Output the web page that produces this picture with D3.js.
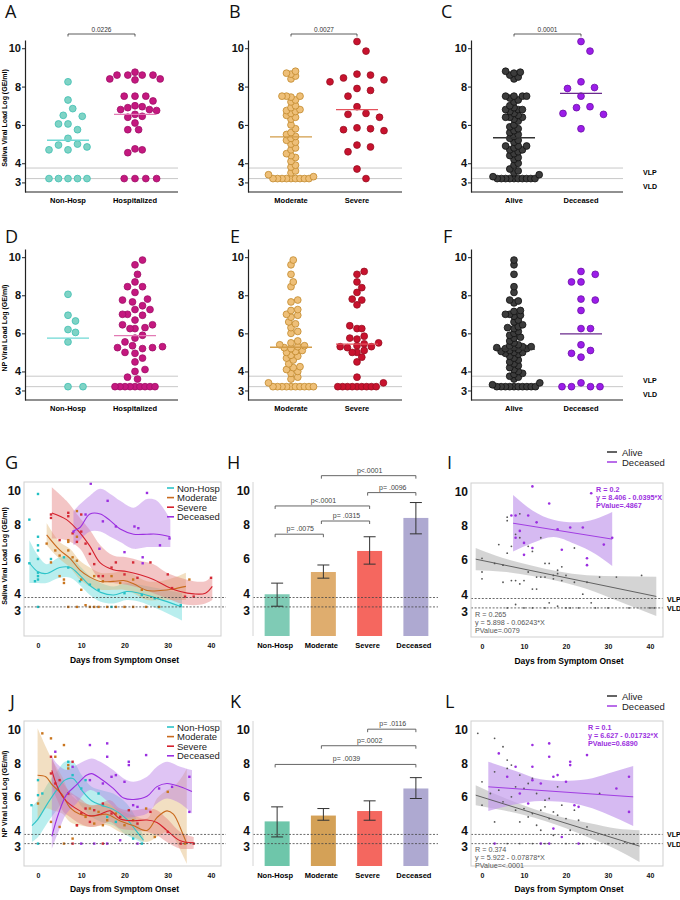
<!DOCTYPE html>
<html>
<head>
<meta charset="utf-8">
<script src="https://cdn.jsdelivr.net/npm/d3@7"></script>
<style>
  body { margin: 0; background: #fff; }
  svg { font-family: "Liberation Sans", Arial, sans-serif; }
</style>
</head>
<body>
<svg id="fig" width="680" height="900"></svg>
<script>
// ---------- data ----------
const vlp = 3.75, vld = 3.2;
const yTicks = [3, 4, 6, 8, 10];

// A-C saliva, D-F NP (log GE/ml)
const salivaNonHosp = [8.25, 7.3, 6.85, 6.5, 6.45, 6.05, 6.05, 5.75, 5.3, 5.0, 4.95, 4.85, 4.7, 4.7, 3.2, 3.2, 3.2, 3.2, 3.2];
const salivaHosp = [8.75, 8.6, 8.6, 8.6, 8.6, 8.4, 8.4, 8.35, 7.5, 7.5, 7.5, 7.25, 7.0, 6.95, 6.9, 6.8, 6.8, 6.75, 6.55, 6.45, 6.4, 6.1, 5.75, 5.75, 4.75, 4.7, 4.55, 3.2, 3.2, 3.2, 3.2];
const salivaModerate = [8.8, 8.7, 8.65, 8.55, 8.4, 7.5, 7.5, 7.5, 7.45, 7.3, 7.2, 7.0, 6.9, 6.8, 6.75, 6.7, 6.6, 6.5, 6.4, 6.3, 6.0, 5.8, 5.6, 5.5, 5.4, 5.3, 5.2, 5.1, 5.0, 4.8, 4.7, 4.5, 4.4, 4.3, 4.1, 3.9, 3.8, 3.6, 3.5, 3.4, 3.3, 3.2, 3.2, 3.2, 3.2, 3.2, 3.2, 3.2, 3.2, 3.2];
const salivaSevere = [10.35, 9.85, 8.65, 8.6, 8.45, 8.35, 8.25, 7.9, 7.8, 7.5, 6.95, 6.6, 6.55, 6.4, 5.85, 5.8, 5.75, 5.7, 4.95, 4.85, 4.6, 3.7, 3.2];
const salivaAlive = [8.8, 8.75, 8.7, 8.6, 8.5, 8.4, 7.5, 7.5, 7.5, 7.5, 7.4, 7.3, 7.2, 7.0, 6.9, 6.8, 6.8, 6.8, 6.7, 6.6, 6.5, 6.4, 6.4, 6.4, 6.3, 6.2, 6.0, 5.9, 5.8, 5.7, 5.6, 5.5, 5.4, 5.3, 5.2, 5.1, 4.9, 4.9, 4.9, 4.8, 4.7, 4.7, 4.6, 4.5, 4.4, 4.3, 4.2, 4.0, 3.9, 3.7, 3.6, 3.5, 3.4, 3.3, 3.2, 3.2, 3.2, 3.2, 3.2, 3.2, 3.2, 3.2, 3.2, 3.2];
const salivaDeceased = [10.35, 9.85, 8.25, 7.95, 7.9, 7.5, 6.95, 6.9, 6.6, 6.55, 5.8];
const npNonHosp = [8.05, 6.95, 6.65, 6.2, 6.05, 5.55, 3.2, 3.2];
const npHosp = [9.85, 9.6, 9.1, 8.7, 8.45, 8.45, 8.15, 7.8, 7.75, 7.65, 7.45, 7.25, 7.25, 7.0, 7.0, 6.95, 6.7, 6.45, 6.45, 6.3, 6.25, 6.25, 5.9, 5.75, 5.55, 5.35, 5.3, 5.25, 5.25, 5.2, 5.0, 4.95, 4.7, 4.5, 4.1, 4.0, 3.7, 3.6, 3.2, 3.2, 3.2, 3.2, 3.2, 3.2, 3.2, 3.2, 3.2];
const npModerate = [9.85, 9.6, 9.1, 8.7, 8.45, 7.75, 7.65, 7.25, 7.2, 7.0, 6.95, 6.85, 6.6, 6.5, 6.3, 6.1, 6.0, 5.6, 5.5, 5.4, 5.35, 5.3, 5.25, 5.2, 5.1, 5.05, 5.0, 4.85, 4.8, 4.7, 4.6, 4.4, 4.25, 4.2, 4.1, 4.0, 3.9, 3.7, 3.6, 3.4, 3.2, 3.2, 3.2, 3.2, 3.2, 3.2, 3.2, 3.2, 3.2, 3.2];
const npSevere = [9.25, 9.1, 8.7, 8.4, 8.15, 7.8, 7.75, 7.5, 6.4, 6.25, 6.25, 5.85, 5.75, 5.7, 5.5, 5.45, 5.35, 5.3, 5.3, 5.25, 5.1, 5.0, 5.0, 4.75, 4.5, 3.7, 3.4, 3.2, 3.2, 3.2, 3.2, 3.2, 3.2, 3.2, 3.2, 3.2];
const npAlive = [9.85, 9.6, 9.1, 8.45, 8.15, 7.75, 7.7, 7.6, 7.2, 7.15, 7.0, 7.0, 6.95, 6.9, 6.7, 6.6, 6.45, 6.35, 6.3, 6.25, 6.1, 6.0, 5.9, 5.8, 5.75, 5.6, 5.5, 5.4, 5.35, 5.3, 5.3, 5.25, 5.25, 5.2, 5.2, 5.15, 5.1, 5.05, 5.0, 5.0, 4.95, 4.9, 4.8, 4.7, 4.6, 4.5, 4.4, 4.3, 4.2, 4.1, 4.0, 3.9, 3.85, 3.75, 3.7, 3.6, 3.4, 3.3, 3.2, 3.2, 3.2, 3.2, 3.2, 3.2, 3.2, 3.2, 3.2, 3.2];
const npDeceased = [9.25, 9.1, 8.7, 8.7, 7.8, 7.75, 7.2, 6.25, 6.25, 5.4, 5.1, 4.95, 4.75, 3.4, 3.2, 3.2, 3.2, 3.2];
const medians = { A: [5.2, 6.55], B: [5.38, 6.8], C: [5.33, 7.65], D: [5.75, 5.88], E: [5.27, 5.43], F: [5.17, 5.97] };
const pAbove = { A: "0.0226", B: "0.0027", C: "0.0001" };

// H, K bars (mean with error bars)
const barCats = ["Non-Hosp", "Moderate", "Severe", "Deceased"];
const salivaMean = [3.94, 5.24, 6.47, 8.4];
const salivaLo = [3.24, 4.88, 5.7, 7.47];
const salivaHi = [4.59, 5.65, 7.3, 9.3];
const npMean = [4.53, 4.88, 5.15, 6.5];
const npLo = [3.6, 4.6, 4.6, 5.9];
const npHi = [5.4, 5.3, 5.76, 7.15];
const salivaBrackets = [[0, 1, "p= .0075", 7.45], [1, 2, "p= .0315", 8.22], [0, 2, "p<.0001", 9.1], [2, 3, "p= .0096", 9.88], [1, 3, "p<.0001", 10.87]];
const npBrackets = [[2, 3, "p= .0116", 10.05], [1, 3, "p=.0002", 9.06], [0, 3, "p= .0039", 7.94]];

// G saliva over time: points, smooth line, band [day, lo, hi]
const gPtsNonHosp = [[-2, 8.3], [-2, 5.75], [0, 9.8], [0, 7.3], [0, 6.8], [0, 6.5], [0, 6.0], [0, 5.2], [0, 5.0], [0, 4.8], [-0.7, 4.7], [0, 3.2], [3, 6.0], [6, 6.1], [7, 5.5], [9.7, 4.7], [12, 4.5], [14, 4.2], [17, 3.2], [20, 4.0], [24, 3.9], [27, 3.7], [33, 3.3]];
const gPtsModerate = [[2, 6.9], [3, 5.8], [4, 6.5], [5, 6.2], [5, 5.0], [6, 4.6], [6, 4.8], [7, 7.0], [7, 7.1], [7, 6.5], [7, 3.2], [8, 6.1], [9, 8.8], [9, 7.3], [9, 5.9], [10, 4.8], [10, 4.2], [11, 3.3], [12, 3.2], [13, 5.0], [13, 3.2], [15, 4.7], [16, 3.2], [17, 5.0], [18, 3.2], [19, 4.6], [20, 3.2], [22, 4.8], [22, 3.2], [24, 4.2], [25, 3.2], [28, 3.2], [35, 4.8], [14, 3.2], [9, 3.2]];
const gPtsSevere = [[3, 8.4], [3, 8.6], [5, 7.1], [7, 8.5], [7, 8.7], [8, 7.5], [9, 7.0], [10, 8.6], [10, 7.6], [11, 6.9], [12, 6.3], [13, 5.7], [14, 5.0], [15, 5.0], [17, 5.5], [18, 5.8], [20, 5.1], [22, 5.8], [23, 4.9], [26, 5.8], [30, 5.1], [31, 4.3], [34, 3.8], [36, 3.8], [40, 4.9]];
const gPtsDeceased = [[8.2, 7.6], [11, 8.6], [12.2, 10.4], [14.2, 6.6], [15, 8.2], [16.1, 9.4], [18, 7.9], [20, 6.4], [22.3, 7.9], [23.2, 7.8], [24.2, 6.1], [24.2, 5.75], [25.2, 9.86], [28.2, 6.8], [30.4, 7.2]];
const gLineNonHosp = [[-2, 5.78], [0, 5.25], [2, 5.15], [5, 5.5], [7.5, 5.5], [10, 4.95], [12, 4.45], [14.5, 4.05], [17.5, 3.9], [20.5, 4.1], [23.5, 4.0], [27.5, 3.7], [33.3, 3.2]];
const gBandNonHosp = [[-2, 4.6, 7.1], [0, 4.6, 6.2], [2, 4.6, 5.7], [5, 4.9, 6.1], [7.5, 4.9, 6.1], [10, 4.4, 5.5], [12, 3.9, 5.0], [14.5, 3.5, 4.6], [17.5, 3.4, 4.4], [20.5, 3.6, 4.6], [23.5, 3.5, 4.5], [27.5, 3.1, 4.3], [33.3, 2.4, 4.0]];
const gLineModerate = [[2, 7.41], [5, 6.53], [7.4, 6.04], [9.7, 5.35], [12, 4.94], [14.4, 4.69], [17.4, 4.69], [19.8, 4.74], [22.1, 4.55], [25.2, 4.16], [28.3, 4.16], [31.3, 4.25], [34.2, 4.4]];
const gBandModerate = [[2, 6.8, 8.1], [5, 6.0, 7.0], [7.4, 5.5, 6.6], [9.7, 4.8, 5.9], [12, 4.4, 5.5], [14.4, 4.2, 5.2], [17.4, 4.2, 5.2], [19.8, 4.2, 5.3], [22.1, 4.0, 5.1], [25.2, 3.6, 4.7], [28.3, 3.6, 4.7], [31.3, 3.6, 4.9], [34.2, 3.6, 5.2]];
const gLineSevere = [[3.2, 8.69], [6.6, 8.3], [9.7, 7.53], [12, 6.75], [14.4, 5.77], [17.4, 5.37], [20.5, 5.27], [23.6, 5.08], [26.7, 4.8], [29.8, 4.4], [32.9, 4.1], [36, 3.96], [38.7, 4.0], [40.3, 4.4]];
const gBandSevere = [[3.2, 7.2, 10.2], [6.6, 7.1, 9.4], [9.7, 6.6, 8.4], [12, 5.6, 7.7], [14.4, 4.8, 6.8], [17.4, 4.6, 6.2], [20.5, 4.5, 6.1], [23.6, 4.3, 5.9], [26.7, 4.0, 5.7], [29.8, 3.7, 5.2], [32.9, 3.4, 4.9], [36, 3.3, 4.7], [38.7, 3.4, 4.7], [40.3, 3.6, 5.0]];
const gLineDeceased = [[8.2, 7.64], [9.7, 7.84], [12, 8.63], [14.4, 8.63], [16.7, 8.24], [19, 7.75], [22.1, 7.45], [25.2, 7.45], [27.5, 7.45], [30.6, 7.3]];
const gBandDeceased = [[8.2, 6.8, 8.8], [9.7, 7.1, 9.2], [12, 7.6, 9.7], [14.4, 7.6, 10.1], [16.7, 7.3, 9.8], [19, 7.0, 9.4], [22.1, 6.6, 9.0], [25.2, 6.7, 9.5], [27.5, 6.7, 9.4], [30.6, 6.7, 8.3]];

// J NP over time
const jPtsNonHosp = [[-1.5, 5.5], [0, 7.0], [0, 6.1], [1, 6.2], [0, 3.2], [7, 8.1], [8, 7.3], [10, 6.5], [11, 7.0], [14, 6.2], [15, 5.5], [16, 4.8], [18, 4.5], [22, 3.5], [24, 3.2]];
const jPtsModerate = [[1, 9.8], [3, 9.5], [4, 8.4], [6, 9.1], [7, 7.7], [7, 7.9], [0, 5.6], [3, 4.5], [5, 4.2], [6, 3.2], [8, 3.5], [9, 4.3], [10, 5.0], [11, 4.8], [12, 5.3], [13, 4.4], [14, 5.1], [15, 4.3], [16, 4.6], [18, 5.0], [20, 4.3], [22, 4.6], [25, 5.3], [27, 3.6], [30, 6.3], [34, 3.2]];
const jPtsSevere = [[3, 8.4], [3, 7.4], [4, 6.8], [5, 7.0], [8, 8.1], [7, 6.2], [9, 4.3], [10, 5.0], [11, 5.3], [12, 4.5], [13, 5.2], [15, 5.6], [17, 5.0], [19, 4.8], [21, 5.2], [23, 4.4], [26, 5.1], [30, 3.9], [33, 3.2], [36, 3.2], [8, 3.2], [15, 3.2]];
const jPtsDeceased = [[4, 8.7], [8, 7.8], [12, 9.1], [12, 7.0], [16, 9.2], [16, 8.4], [15, 6.8], [17, 7.2], [18, 7.3], [20, 6.9], [21, 8.1], [21, 7.9], [22, 5.5], [23, 5.4], [25, 8.5], [28, 6.5], [31, 6.6], [35, 7.2], [35, 5.1], [19, 3.4], [10, 3.2], [13, 3.2], [16, 3.2], [23, 3.2]];
const jLineNonHosp = [[-1.4, 4.28], [0, 4.67], [2.3, 5.64], [4.6, 6.51], [6.2, 7.0], [8.1, 7.1], [10.1, 6.4], [12.4, 5.77], [14.7, 5.5], [17.4, 5.25], [20.5, 4.67], [22.9, 3.9], [24.4, 3.4]];
const jBandNonHosp = [[-1.4, 3.3, 5.45], [0, 3.6, 5.8], [2.3, 4.5, 6.8], [4.6, 5.3, 7.6], [6.2, 5.9, 8.1], [8.1, 6.1, 8.1], [10.1, 5.4, 7.3], [12.4, 4.8, 6.6], [14.7, 4.5, 6.4], [17.4, 4.3, 6.2], [20.5, 3.7, 5.6], [22.9, 3.4, 4.6], [24.4, 3.2, 3.6]];
const jLineModerate = [[-0.1, 7.29], [1.8, 7.2], [3.3, 6.71], [5.6, 6.13], [7.4, 5.35], [9.7, 4.96], [12.8, 4.86], [15.9, 4.96], [18.9, 4.57], [22, 4.28], [25.2, 3.99], [27.5, 4.76], [29.8, 5.16], [31.3, 4.96], [33.3, 3.9], [34.4, 3.2]];
const jBandModerate = [[-0.1, 4.5, 10.1], [1.8, 5.3, 9.0], [3.3, 5.2, 8.2], [5.6, 5.0, 7.2], [7.4, 4.5, 6.2], [9.7, 4.3, 5.7], [12.8, 4.2, 5.5], [15.9, 4.3, 5.6], [18.9, 3.9, 5.2], [22, 3.6, 4.9], [25.2, 3.3, 4.7], [27.5, 3.6, 5.9], [29.8, 3.9, 6.4], [31.3, 3.6, 6.6], [33.3, 2.6, 7.2], [34.4, 2.0, 7.7]];
const jLineSevere = [[3.2, 7.58], [4.3, 6.71], [5.9, 5.93], [7.4, 5.55], [9.7, 5.16], [12, 4.86], [14.4, 4.96], [16.7, 5.16], [19, 4.67], [22.1, 4.57], [25.2, 4.61], [27.5, 4.47], [29.8, 3.99], [32.9, 3.37], [36, 3.25]];
const jBandSevere = [[3.2, 6.7, 8.4], [4.3, 5.9, 7.6], [5.9, 5.1, 6.8], [7.4, 4.8, 6.3], [9.7, 4.4, 5.9], [12, 4.2, 5.5], [14.4, 4.3, 5.6], [16.7, 4.5, 5.8], [19, 4.1, 5.3], [22.1, 4.0, 5.2], [25.2, 3.9, 5.3], [27.5, 3.7, 5.2], [29.8, 3.3, 4.7], [32.9, 2.9, 3.9], [36, 2.9, 3.6]];
const jLineDeceased = [[3.2, 3.64], [4.7, 4.96], [6.6, 6.13], [8.9, 6.71], [11.2, 7.29], [12.4, 7.39], [14.4, 7.1], [17.4, 6.51], [19.8, 5.93], [22.1, 5.84], [25.2, 6.03], [27.5, 6.61], [29.8, 6.8], [32.9, 6.61], [35.6, 6.32]];
const jBandDeceased = [[3.2, 2.9, 8.4], [4.7, 3.9, 7.9], [6.6, 5.0, 7.6], [8.9, 5.6, 7.9], [11.2, 6.3, 8.2], [12.4, 6.4, 8.3], [14.4, 6.1, 8.1], [17.4, 5.4, 7.6], [19.8, 4.8, 7.1], [22.1, 4.8, 6.9], [25.2, 5.0, 7.2], [27.5, 5.6, 7.8], [29.8, 5.9, 8.1], [32.9, 5.6, 7.8], [35.6, 5.0, 7.6]];

// I, L regressions
const iPtsAlive = [[0, 6.1], [0, 5.3], [0, 4.9], [3, 5.8], [4, 6.9], [5, 5.7], [5, 4.7], [6, 8.5], [6, 8.3], [6, 6.4], [7, 6.8], [7, 4.8], [8, 7.5], [8, 4.8], [9, 8.7], [9, 7.3], [9, 4.6], [10, 7.0], [10, 4.8], [10, 3.2], [11, 6.8], [11, 5.3], [12, 6.5], [12, 4.3], [13, 5.0], [13, 4.3], [14, 7.3], [14, 5.0], [15, 5.8], [15, 5.0], [16, 5.8], [16, 3.5], [17, 5.1], [17, 4.9], [18, 5.4], [18, 5.2], [19, 5.6], [19, 4.8], [20, 5.1], [20, 3.2], [22, 6.7], [22, 4.7], [23, 3.2], [24, 4.0], [25, 4.7], [27, 3.2], [28, 5.0], [30, 3.2], [32, 5.0], [35, 3.2], [38, 5.1], [40, 3.2], [41, 3.2], [6, 3.2], [8, 3.4], [12, 3.2], [15, 3.2], [18, 3.3], [21, 3.2], [26, 3.5]];
const iPtsDeceased = [[12, 10.3], [7, 8.6], [8, 8.6], [11, 8.6], [9, 7.7], [13, 8.2], [16, 9.3], [18, 7.8], [21, 7.9], [24, 7.9], [26, 9.9], [29, 6.9], [31, 7.3], [10, 6.3], [12, 6.7], [19, 6.6], [25, 6.1], [25, 5.7], [8, 7.3], [10, 7.0]];
const iLineAlive = [[-1.5, 6.05], [41.5, 3.87]];
const iBandAlive = [[-1.5, 5.4, 6.7], [5, 5.32, 6.12], [12, 5.07, 5.67], [18, 4.78, 5.34], [25, 4.31, 5.11], [33, 3.55, 5.05], [41.5, 2.72, 5.02]];
const iLineDeceased = [[7.4, 8.15], [31, 7.22]];
const iBandDeceased = [[7.4, 6.5, 9.8], [12, 7.0, 8.9], [17, 7.35, 8.35], [22, 6.95, 8.2], [27, 6.35, 8.4], [31, 5.65, 8.8]];
const lPtsAlive = [[-1, 9.8], [3, 9.5], [3, 7.5], [3, 4.5], [5, 9.0], [6, 8.2], [6, 7.7], [7, 7.9], [7, 6.0], [8, 6.6], [8, 5.2], [9, 7.3], [9, 4.5], [10, 6.5], [10, 5.3], [11, 6.8], [11, 4.8], [12, 7.1], [12, 5.0], [13, 6.2], [13, 4.3], [14, 5.2], [14, 4.0], [15, 5.8], [15, 5.4], [16, 5.9], [16, 4.7], [17, 5.1], [17, 3.7], [18, 6.6], [18, 4.9], [19, 5.5], [20, 4.7], [21, 4.0], [22, 5.2], [23, 4.6], [25, 4.2], [28, 6.2], [30, 3.2], [34, 3.3], [36, 3.2], [0, 6.9], [0, 5.5], [2, 6.2], [4, 6.4], [5, 5.7], [6, 3.2], [9, 3.2], [12, 3.2], [15, 3.2], [20, 3.2], [24, 3.2], [27, 3.2]];
const lPtsDeceased = [[4, 8.6], [8, 7.8], [12, 9.1], [12, 7.8], [16, 9.2], [16, 8.4], [17, 7.2], [18, 7.3], [20, 6.9], [21, 8.1], [21, 7.9], [22, 5.5], [23, 5.4], [25, 8.5], [32, 6.5], [35, 7.2], [35, 5.1], [6, 7.2], [9, 6.2], [12, 7.0], [14, 6.8], [17, 4.1], [19, 3.6], [3, 3.2], [14, 3.2], [16, 3.2], [23, 3.2], [11, 5.6]];
const lLineAlive = [[-1.5, 6.1], [37.5, 3.05]];
const lBandAlive = [[-1.5, 5.5, 6.7], [5, 5.2, 5.98], [10, 4.92, 5.48], [15, 4.56, 5.06], [20, 4.12, 4.72], [26, 3.5, 4.4], [32, 2.85, 4.1], [37.5, 2.1, 4.0]];
const lLineDeceased = [[1.5, 6.6], [36, 6.0]];
const lBandDeceased = [[1.5, 5.15, 8.1], [8, 5.55, 7.55], [14, 5.75, 7.05], [19, 5.7, 6.95], [25, 5.4, 7.05], [30, 4.95, 7.4], [36, 4.25, 7.85]];

// ---------- drawing ----------
const svg = d3.select("#fig");
const grey = "#c8c8c8";

function letter(x, y, t) {
  svg.append("text").attr("x", x).attr("y", y).attr("font-size", 18)
    .attr("font-family", "'Open Sans', 'Liberation Sans', sans-serif").attr("fill", "#111").text(t);
}
function yTitle(x, yc, t) {
  svg.append("text").attr("transform", `translate(${x},${yc}) rotate(-90)`)
    .attr("text-anchor", "middle").attr("font-size", 7).attr("font-weight", "bold").text(t);
}
function styleYAxis(ax, size) {
  ax.selectAll("text").attr("font-size", size).attr("font-weight", "bold").attr("fill", "#111")
    .attr("font-family", "'Liberation Sans', Arial, sans-serif");
}

// beeswarm placement; identical values sit in a row with their own spacing
function dodge(vals, y, minD, rowD, up) {
  const pts = [];
  vals.slice().sort((a, b) => up ? a - b : b - a).forEach(v => {
    const py = y(v);
    for (let i = 0; ; i++) {
      const off = (i % 2 === 1 ? 1 : -1) * Math.ceil(i / 2) * Math.min(rowD, minD) / 2;
      const ok = pts.every(p => {
        const d = Math.abs(p.y - py) < 0.01 ? rowD : minD;
        return (p.x - off) ** 2 + (p.y - py) ** 2 >= d * d - 0.01;
      });
      if (ok) { pts.push({ x: off, y: py }); break; }
    }
  });
  return pts;
}

function dotPanel(o) {
  const y = d3.scaleLinear().domain([2.5, 10.43]).range([o.yBot, o.yTop]);
  const x = d3.scalePoint().domain(o.cats).range(o.centers);
  const g = svg.append("g");
  [vlp, vld].forEach(v => g.append("line").attr("x1", o.x0).attr("x2", o.x1)
    .attr("y1", y(v)).attr("y2", y(v)).attr("stroke", grey).attr("stroke-width", 1));
  const ax = g.append("g").attr("transform", `translate(${o.x0},0)`)
    .call(d3.axisLeft(y).tickValues(yTicks).tickSize(3).tickSizeOuter(0).tickPadding(1).tickFormat(d3.format("d")));
  ax.select(".domain").attr("stroke", "#222").attr("stroke-width", 1.2);
  ax.selectAll(".tick line").attr("stroke", "#222");
  styleYAxis(ax, 11);
  g.append("line").attr("x1", o.x0).attr("x2", o.x1).attr("y1", o.yBot).attr("y2", o.yBot)
    .attr("stroke", "#222").attr("stroke-width", 1.2);
  o.cats.forEach(c => g.append("text").attr("x", x(c)).attr("y", o.yBot + 11)
    .attr("text-anchor", "middle").attr("font-size", 7.5).attr("font-weight", "bold").text(c));
  o.groups.forEach((gr, i) => {
    const cx = x(o.cats[i]);
    g.selectAll(null).data(dodge(gr.vals, y, gr.md, gr.rd, gr.up)).enter().append("circle")
      .attr("cx", d => cx + d.x).attr("cy", d => d.y).attr("r", 3.4)
      .attr("fill", gr.fill).attr("stroke", gr.stroke).attr("stroke-width", 0.8);
    g.append("line").attr("x1", cx - 21).attr("x2", cx + 21)
      .attr("y1", y(o.med[i])).attr("y2", y(o.med[i])).attr("stroke", gr.medColor).attr("stroke-width", 1.3);
  });
  if (o.p) {
    const by = o.yTop - 6;
    g.append("path").attr("d", `M${o.centers[0]},${by + 2.5}V${by}H${o.centers[1]}V${by + 2.5}`)
      .attr("fill", "none").attr("stroke", "#333").attr("stroke-width", 0.8);
    g.append("text").attr("x", (o.centers[0] + o.centers[1]) / 2).attr("y", by - 2.5)
      .attr("text-anchor", "middle").attr("font-size", 6.5).attr("fill", "#333").text(o.p);
  }
  if (o.vl) {
    g.append("text").attr("x", o.x1 + 20).attr("y", y(vlp) + 7).attr("font-size", 7).attr("font-weight", "bold").text("VLP");
    g.append("text").attr("x", o.x1 + 20).attr("y", y(vld) + 10).attr("font-size", 7).attr("font-weight", "bold").text("VLD");
  }
}

const cNonHosp = { fill: "#7fd3c5", stroke: "#3fbfb3", medColor: "#6ed8d4" };
const cHosp = { fill: "#c4187f", stroke: "#a01068", medColor: "#e27ab4" };
const cModerate = { fill: "#eebf78", stroke: "#c2892c", medColor: "#d29c48" };
const cSevere = { fill: "#c8122e", stroke: "#981022", medColor: "#e4525c" };
const cAlive = { fill: "#3c3c3c", stroke: "#111", medColor: "#333" };
const cDeceased = { fill: "#9b1de9", stroke: "#6c10a6", medColor: "#6a2a8c" };

const rowTop = [{ yTop: 40, yBot: 192 }, { yTop: 249, yBot: 400 }];
const cols = [{ x0: 25, x1: 178, centers: [68, 135] }, { x0: 248, x1: 402, centers: [291, 357] }, { x0: 471, x1: 623, centers: [514, 581] }];
// [values, colours, spacing in column, spacing in a row of equal values, fill bottom-up]
const dotSets = [
  ["A", 0, 0, [salivaNonHosp, cNonHosp, 9.5, 9.5, false], [salivaHosp, cHosp, 7.2, 9.3, false]],
  ["B", 0, 1, [salivaModerate, cModerate, 4.6, 4.5, true], [salivaSevere, cSevere, 11, 9, false]],
  ["C", 0, 2, [salivaAlive, cAlive, 4.4, 4.2, true], [salivaDeceased, cDeceased, 12, 9, false]],
  ["D", 1, 0, [npNonHosp, cNonHosp, 7.5, 13, false], [npHosp, cHosp, 8, 5, true]],
  ["E", 1, 1, [npModerate, cModerate, 5, 4.5, true], [npSevere, cSevere, 6.5, 4.8, true]],
  ["F", 1, 2, [npAlive, cAlive, 4.6, 4.3, true], [npDeceased, cDeceased, 10, 9.5, false]]
];
function cats3(c) { return [["Non-Hosp", "Hospitalized"], ["Moderate", "Severe"], ["Alive", "Deceased"]][c]; }
dotSets.forEach(([key, r, c, g1, g2]) => {
  dotPanel(Object.assign({}, rowTop[r], cols[c], {
    cats: cats3(c), med: medians[key], p: pAbove[key], vl: c === 2,
    groups: [g1, g2].map(([vals, col, md, rd, up]) => Object.assign({ vals, md, rd, up }, col))
  }));
});

letter(5, 18, "A"); letter(229, 18, "B"); letter(441, 18, "C");
letter(5, 243, "D"); letter(230, 243, "E"); letter(443, 243, "F");
yTitle(7, 118, "Saliva Viral Load Log (GE/ml)");
yTitle(7, 328, "NP Viral Load Log (GE/ml)");

// ---- time panels G, J ----
const groupCols = {
  nh: { line: "#2ec4c9", band: "#59d6d6", pt: "#22c0c4", name: "Non-Hosp" },
  mo: { line: "#c96a1e", band: "#e0b36e", pt: "#c9751e", name: "Moderate" },
  se: { line: "#d5202c", band: "#e27474", pt: "#d42a36", name: "Severe" },
  de: { line: "#9b2fe0", band: "#b272e4", pt: "#9b2fe0", name: "Deceased" }
};

function boxPanel(o) {
  const x = d3.scaleLinear().domain([0, 40]).range(o.xr);
  const y = d3.scaleLinear().domain(o.yd).range([o.bottom, o.top]);
  const g = svg.append("g");
  const id = "clip" + o.key;
  svg.append("clipPath").attr("id", id).append("rect")
    .attr("x", o.left).attr("y", o.top).attr("width", o.right - o.left).attr("height", o.bottom - o.top);
  const inner = g.append("g").attr("clip-path", `url(#${id})`);
  return { x, y, g, inner };
}
function boxFrame(p, o) {
  p.g.append("rect").attr("x", o.left).attr("y", o.top).attr("width", o.right - o.left).attr("height", o.bottom - o.top)
    .attr("fill", "none").attr("stroke", "#cfcfcf").attr("stroke-width", 1);
  const ax = p.g.append("g").attr("transform", `translate(${o.left},0)`)
    .call(d3.axisLeft(p.y).tickValues(yTicks).tickSize(0).tickPadding(3).tickFormat(d3.format("d")));
  ax.select(".domain").remove();
  styleYAxis(ax, 12);
  const bx = p.g.append("g").attr("transform", `translate(0,${o.bottom})`)
    .call(d3.axisBottom(p.x).tickValues([0, 10, 20, 30, 40]).tickSize(0).tickPadding(7));
  bx.select(".domain").remove();
  bx.selectAll("text").attr("font-size", 7).attr("font-weight", "bold").attr("fill", "#111");
  p.g.append("text").attr("x", (o.left + o.right) / 2 + 2).attr("y", o.bottom + o.titleDy).attr("text-anchor", "middle")
    .attr("font-size", 8.5).attr("font-weight", "bold").text("Days from Symptom Onset");
}
function dotted(p, x1, x2) {
  [vlp, vld].forEach(v => p.g.append("line").attr("x1", x1).attr("x2", x2).attr("y1", p.y(v)).attr("y2", p.y(v))
    .attr("stroke", "#444").attr("stroke-width", 0.8).attr("stroke-dasharray", "2,1.6"));
}
function timePanel(o, series) {
  const p = boxPanel(o);
  const area = d3.area().x(d => p.x(d[0])).y0(d => p.y(d[1])).y1(d => p.y(d[2])).curve(d3.curveCatmullRom.alpha(0.5));
  const line = d3.line().x(d => p.x(d[0])).y(d => p.y(d[1])).curve(d3.curveCatmullRom.alpha(0.5));
  series.forEach(s => p.inner.append("path").attr("d", area(s.band)).attr("fill", groupCols[s.k].band).attr("opacity", 0.42));
  series.forEach(s => p.inner.selectAll(null).data(s.pts).enter().append("rect")
    .attr("x", d => p.x(d[0]) - 1.2).attr("y", d => p.y(d[1]) - 1.2).attr("width", 2.4).attr("height", 2.4)
    .attr("fill", groupCols[s.k].pt));
  series.forEach(s => p.inner.append("path").attr("d", line(s.line)).attr("fill", "none")
    .attr("stroke", groupCols[s.k].line).attr("stroke-width", 1.1));
  dotted(p, o.left, o.right + 5);
  boxFrame(p, o);
  const leg = p.g.append("g").attr("transform", `translate(${o.right - 54},${o.top + 6})`);
  series.forEach((s, i) => {
    leg.append("line").attr("x1", 0).attr("x2", 7).attr("y1", i * 9.6).attr("y2", i * 9.6)
      .attr("stroke", groupCols[s.k].line).attr("stroke-width", 1.6);
    leg.append("text").attr("x", 10).attr("y", i * 9.6 + 3.5).attr("font-size", 9.5).attr("fill", "#222").text(groupCols[s.k].name);
  });
}
const topRow = { top: 482, bottom: 636, yd: [1.5, 10.5], titleDy: 27 };
const botRow = { top: 721, bottom: 866, yd: [1.86, 10.54], titleDy: 26 };
timePanel(Object.assign({ key: "G", left: 24, right: 221, xr: [38, 211] }, topRow), [
  { k: "nh", pts: gPtsNonHosp, line: gLineNonHosp, band: gBandNonHosp },
  { k: "mo", pts: gPtsModerate, line: gLineModerate, band: gBandModerate },
  { k: "se", pts: gPtsSevere, line: gLineSevere, band: gBandSevere },
  { k: "de", pts: gPtsDeceased, line: gLineDeceased, band: gBandDeceased }
]);
timePanel(Object.assign({ key: "J", left: 24, right: 221, xr: [38, 211] }, botRow), [
  { k: "nh", pts: jPtsNonHosp, line: jLineNonHosp, band: jBandNonHosp },
  { k: "mo", pts: jPtsModerate, line: jLineModerate, band: jBandModerate },
  { k: "se", pts: jPtsSevere, line: jLineSevere, band: jBandSevere },
  { k: "de", pts: jPtsDeceased, line: jLineDeceased, band: jBandDeceased }
]);

// ---- bar panels H, K ----
function barPanel(o) {
  const y = d3.scaleLinear().domain(o.yd).range([o.bottom, o.top]);
  const x = d3.scaleBand().domain(barCats).range([254, 439]).paddingInner(0.46).paddingOuter(0.23);
  const g = svg.append("g");
  g.selectAll(null).data(barCats).enter().append("rect")
    .attr("x", d => x(d)).attr("width", x.bandwidth())
    .attr("y", (d, i) => y(o.mean[i])).attr("height", (d, i) => o.bottom - y(o.mean[i]))
    .attr("fill", (d, i) => o.colors[i]);
  const p = { g, y };
  dotted(p, 253, 438);
  barCats.forEach((c, i) => {
    const cx = x(c) + x.bandwidth() / 2;
    g.append("path").attr("d", `M${cx},${y(o.hi[i])}V${y(o.lo[i])}M${cx - 6},${y(o.hi[i])}H${cx + 6}M${cx - 6},${y(o.lo[i])}H${cx + 6}`)
      .attr("stroke", "#333").attr("stroke-width", 1).attr("fill", "none");
    g.append("text").attr("x", cx - 2).attr("y", o.bottom + 12).attr("text-anchor", "middle")
      .attr("font-size", 7.5).attr("font-weight", "bold").text(c);
  });
  const ax = g.append("g").attr("transform", `translate(253,0)`)
    .call(d3.axisLeft(y).tickValues(yTicks).tickSize(0).tickPadding(3).tickFormat(d3.format("d")));
  ax.select(".domain").attr("stroke", "#d4d4d4").attr("d", `M0,${o.top}V${o.bottom}`);
  styleYAxis(ax, 12);
  o.brackets.forEach(([a, b, t, v]) => {
    const xa = x(barCats[a]) + x.bandwidth() / 2, xb = x(barCats[b]) + x.bandwidth() / 2, by = y(v);
    g.append("path").attr("d", `M${xa - 2},${by + 3}V${by}H${xb}V${by + 3}`)
      .attr("fill", "none").attr("stroke", "#555").attr("stroke-width", 0.9);
    g.append("text").attr("x", (xa + xb) / 2).attr("y", by - 3).attr("text-anchor", "middle")
      .attr("font-size", 7).attr("fill", "#444").text(t);
  });
}
barPanel(Object.assign({ mean: salivaMean, lo: salivaLo, hi: salivaHi,
  colors: ["#7fcbb5", "#dfad6e", "#f5675f", "#aea9d1"], brackets: salivaBrackets }, topRow));
barPanel(Object.assign({ mean: npMean, lo: npLo, hi: npHi,
  colors: ["#6ec6aa", "#d4a157", "#f4675f", "#aea9d1"], brackets: npBrackets }, botRow));

// ---- regression panels I, L ----
function regPanel(o) {
  const p = boxPanel(o);
  const area = d3.area().x(d => p.x(d[0])).y0(d => p.y(d[1])).y1(d => p.y(d[2])).curve(d3.curveMonotoneX);
  const line = d3.line().x(d => p.x(d[0])).y(d => p.y(d[1]));
  p.inner.append("path").attr("d", area(o.bandA)).attr("fill", "#bdbdbd").attr("opacity", 0.65);
  p.inner.append("path").attr("d", area(o.bandD)).attr("fill", "#c49ded").attr("opacity", 0.7);
  p.inner.selectAll(null).data(o.ptsA).enter().append("circle")
    .attr("cx", d => p.x(d[0])).attr("cy", d => p.y(d[1])).attr("r", 0.9).attr("fill", "#555");
  p.inner.selectAll(null).data(o.ptsD).enter().append("circle")
    .attr("cx", d => p.x(d[0])).attr("cy", d => p.y(d[1])).attr("r", 1.3).attr("fill", "#9b2fe0");
  dotted(p, o.left, o.right);
  p.inner.append("path").attr("d", line(o.lineA)).attr("stroke", "#555").attr("stroke-width", 0.9).attr("fill", "none");
  p.inner.append("path").attr("d", line(o.lineD)).attr("stroke", "#9b2fe0").attr("stroke-width", 0.9).attr("fill", "none");
  boxFrame(p, o);
  o.noteD.forEach((t, i) => p.g.append("text").attr("x", o.noteDx).attr("y", o.top + 9 + i * 7.8)
    .attr("font-size", 7.2).attr("font-weight", "bold").attr("fill", "#9b2fe0").text(t));
  o.noteA.forEach((t, i) => p.g.append("text").attr("x", o.left + 4).attr("y", o.noteAy + i * 7.8)
    .attr("font-size", 7.2).attr("fill", "#555").text(t));
  p.g.append("text").attr("x", o.right + 4).attr("y", p.y(vlp) + 3).attr("font-size", 7).attr("font-weight", "bold").text("VLP");
  p.g.append("text").attr("x", o.right + 4).attr("y", p.y(vld) + 3).attr("font-size", 7).attr("font-weight", "bold").text("VLD");
  const leg = p.g.append("g").attr("transform", `translate(${o.right - 56},${o.top + o.legDy})`);
  [["Alive", "#222"], ["Deceased", "#9b2fe0"]].forEach(([t, c], i) => {
    leg.append("line").attr("x1", 0).attr("x2", 10).attr("y1", i * 10).attr("y2", i * 10).attr("stroke", c).attr("stroke-width", 1.4);
    leg.append("text").attr("x", 15).attr("y", i * 10 + 3.5).attr("font-size", 9.5).attr("fill", "#222").text(t);
  });
}
regPanel(Object.assign({ key: "I", left: 471, right: 663, xr: [482, 650],
  ptsA: iPtsAlive, ptsD: iPtsDeceased, lineA: iLineAlive, lineD: iLineDeceased, bandA: iBandAlive, bandD: iBandDeceased,
  noteD: ["R = 0.2", "y = 8.406 - 0.0395*X", "PValue=.4867"], noteDx: 596,
  noteA: ["R = 0.265", "y = 5.898 - 0.06243*X", "PValue=.0079"], noteAy: 617, legDy: -31 }, topRow, { top: 483, bottom: 637 }));
regPanel(Object.assign({ key: "L", left: 471, right: 663, xr: [482, 650],
  ptsA: lPtsAlive, ptsD: lPtsDeceased, lineA: lLineAlive, lineD: lLineDeceased, bandA: lBandAlive, bandD: lBandDeceased,
  noteD: ["R = 0.1", "y = 6.627 - 0.01732*X", "PValue=0.6890"], noteDx: 588,
  noteA: ["R = 0.374", "y = 5.922 - 0.07878*X", "PValue=<.0001"], noteAy: 852, legDy: -25 }, botRow));

letter(5, 469, "G"); letter(227, 469, "H"); letter(447, 469, "I");
letter(10, 708, "J"); letter(230, 708, "K"); letter(445, 708, "L");
yTitle(7, 556, "Saliva Viral Load Log (GE/ml)");
yTitle(7, 794, "NP Viral Load Log (GE/ml)");
</script>
</body>
</html>
